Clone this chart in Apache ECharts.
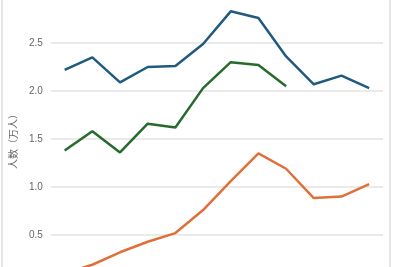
<!DOCTYPE html>
<html>
<head>
<meta charset="utf-8">
<script src="https://cdn.jsdelivr.net/npm/echarts@6/dist/echarts.min.js"></script>
<style>
html,body{margin:0;padding:0;width:393px;height:267px;overflow:hidden;background:#fff;}
#frame{position:absolute;left:1px;top:0;width:386px;height:267px;border-left:2px solid #e6e6e6;border-right:2px solid #e6e6e6;}
#chart{position:absolute;left:0;top:-50px;width:393px;height:360px;}
</style>
</head>
<body>
<div id="frame"></div>
<div id="chart"></div>
<script>
var categories = ['2012','2013','2014','2015','2016','2017','2018','2019','2020','2021','2022','2023'];
var seriesBlue = [2.22, 2.35, 2.09, 2.25, 2.26, 2.49, 2.83, 2.76, 2.36, 2.07, 2.16, 2.03];
var seriesGreen = [1.38, 1.58, 1.36, 1.66, 1.62, 2.03, 2.30, 2.27, 2.05, null, null, null];
var seriesOrange = [0.10, 0.19, 0.32, 0.43, 0.52, 0.76, 1.06, 1.35, 1.19, 0.885, 0.90, 1.03];
var yTicks = [0, 0.5, 1.0, 1.5, 2.0, 2.5, 3.0];
var yName = '人数（万人）';

var chart = echarts.init(document.getElementById('chart'), null, {renderer: 'canvas'});
function line(data, color) {
  return {type: 'line', data: data, symbol: 'none', smooth: false,
    lineStyle: {color: color, width: 2.5}, itemStyle: {color: color}, connectNulls: false};
}
chart.setOption({
  animation: false,
  grid: {left: 48, right: 10, top: 45, bottom: 27},
  xAxis: {type: 'category', data: categories, boundaryGap: true,
    axisLine: {show: false}, axisTick: {show: false},
    axisLabel: {color: '#666', fontSize: 10}},
  yAxis: {type: 'value', min: yTicks[0], max: yTicks[yTicks.length - 1], interval: 0.5,
    name: yName, nameLocation: 'middle', nameGap: 22,
    nameTextStyle: {color: '#666', fontSize: 10, fontFamily: 'Noto Sans CJK SC'},
    axisLine: {show: false}, axisTick: {show: false},
    axisLabel: {color: '#666', fontSize: 10, margin: 8, fontFamily: 'Liberation Sans',
      formatter: function (v) { return v.toFixed(1); }},
    splitLine: {lineStyle: {color: '#e3e3e3', width: 1.5}}},
  series: [line(seriesBlue, '#1f5b7e'), line(seriesGreen, '#266a2c'), line(seriesOrange, '#e0703a')]
});
</script>
</body>
</html>
